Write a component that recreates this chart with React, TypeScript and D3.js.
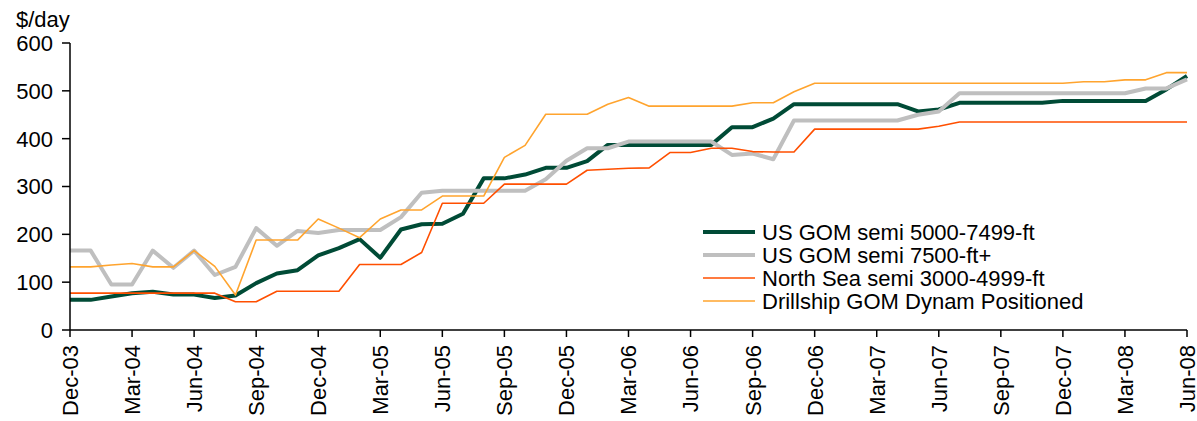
import React from "react";
import * as d3 from "d3";

const months = [
  "Dec-03","Jan-04","Feb-04","Mar-04","Apr-04","May-04","Jun-04","Jul-04","Aug-04","Sep-04","Oct-04","Nov-04",
  "Dec-04","Jan-05","Feb-05","Mar-05","Apr-05","May-05","Jun-05","Jul-05","Aug-05","Sep-05","Oct-05","Nov-05",
  "Dec-05","Jan-06","Feb-06","Mar-06","Apr-06","May-06","Jun-06","Jul-06","Aug-06","Sep-06","Oct-06","Nov-06",
  "Dec-06","Jan-07","Feb-07","Mar-07","Apr-07","May-07","Jun-07","Jul-07","Aug-07","Sep-07","Oct-07","Nov-07",
  "Dec-07","Jan-08","Feb-08","Mar-08","Apr-08","May-08","Jun-08",
];

const tickLabels = [
  "Dec-03","Mar-04","Jun-04","Sep-04","Dec-04","Mar-05","Jun-05","Sep-05","Dec-05","Mar-06",
  "Jun-06","Sep-06","Dec-06","Mar-07","Jun-07","Sep-07","Dec-07","Mar-08","Jun-08",
];

const yTicks = [0, 100, 200, 300, 400, 500, 600];

const gom5000 = [
  63, 63, 70, 77, 80, 74, 74, 67, 72, 98, 118, 125,
  156, 171, 190, 151, 210, 221, 222, 243, 317, 317, 325, 339,
  339, 353, 387, 387, 387, 387, 387, 387, 424, 424, 442, 472,
  472, 472, 472, 472, 472, 457, 461, 475, 475, 475, 475, 475,
  479, 479, 479, 479, 479, 503, 531,
];

const gom7500 = [
  166, 166, 95, 95, 166, 130, 166, 115, 132, 213, 176, 207,
  203, 209, 209, 209, 236, 287, 291, 291, 291, 291, 291, 315,
  354, 380, 380, 394, 394, 394, 394, 394, 366, 369, 357, 438,
  438, 438, 438, 438, 438, 450, 457, 495, 495, 495, 495, 495,
  495, 495, 495, 495, 505, 505, 524,
];

const northSea = [
  77, 77, 77, 77, 77, 77, 77, 77, 59, 59, 81, 81,
  81, 81, 137, 137, 137, 162, 265, 265, 265, 305, 305, 305,
  305, 334, 336, 338, 339, 371, 371, 380, 380, 373, 372, 372,
  420, 420, 420, 420, 420, 420, 426, 435, 435, 435, 435, 435,
  435, 435, 435, 435, 435, 435, 435,
];

const drillship = [
  132, 132, 136, 139, 132, 132, 166, 133, 73, 188, 188, 188,
  232, 213, 193, 232, 251, 251, 280, 280, 280, 361, 386, 451,
  451, 451, 472, 486, 468, 468, 468, 468, 468, 475, 475, 498,
  516, 516, 516, 516, 516, 516, 516, 516, 516, 516, 516, 516,
  516, 519, 519, 523, 523, 538, 538,
];

const seriesNames = [
  "US GOM semi 5000-7499-ft",
  "US GOM semi 7500-ft+",
  "North Sea semi 3000-4999-ft",
  "Drillship GOM Dynam Positioned",
];

const series = [
  { name: seriesNames[0], values: gom5000, color: "#004B36", width: 4 },
  { name: seriesNames[1], values: gom7500, color: "#BFBFBF", width: 4 },
  { name: seriesNames[2], values: northSea, color: "#FF4F00", width: 1.6 },
  { name: seriesNames[3], values: drillship, color: "#FFA42E", width: 1.6 },
];

const W = 1197;
const H = 421;
const FONT = "'Liberation Sans', Arial, Helvetica, sans-serif";

export default function App() {
  const x = d3.scaleLinear().domain([0, months.length - 1]).range([70, 1187]);
  const y = d3.scaleLinear().domain([0, 600]).range([330, 43]);
  const line = d3
    .line<number>()
    .x((_, i) => x(i))
    .y((d) => y(d))
    .curve(d3.curveLinear);

  const legendX = 703;
  const legendY = 232;
  const legendStep = 23;

  return (
    <svg
      width={W}
      height={H}
      style={{ position: "absolute", left: 0, top: 0, background: "#fff" }}
      fontFamily={FONT}
    >
      <rect x={0} y={0} width={W} height={H} fill="#fff" />
      {/* series */}
      {series.map((s) => (
        <path
          key={s.name}
          d={line(s.values) || ""}
          fill="none"
          stroke={s.color}
          strokeWidth={s.width}
          strokeLinejoin="round"
        />
      ))}

      {/* y axis */}
      <line x1={70} x2={70} y1={y(600)} y2={y(0)} stroke="#000" strokeWidth={1.5} />
      {yTicks.map((t) => (
        <g key={t}>
          <line x1={62} x2={70} y1={y(t)} y2={y(t)} stroke="#000" strokeWidth={1.5} />
          <text x={53} y={y(t)} dy="0.36em" textAnchor="end" fontSize={22} fill="#000">
            {t}
          </text>
        </g>
      ))}
      <text x={16} y={27} fontSize={22} fill="#000">$/day</text>

      {/* x axis */}
      <line x1={x(0)} x2={x(months.length - 1)} y1={y(0)} y2={y(0)} stroke="#000" strokeWidth={1.5} />
      {months.map((m, i) =>
        i % 3 === 0 ? (
          <line key={m} x1={x(i)} x2={x(i)} y1={y(0)} y2={y(0) + 7} stroke="#000" strokeWidth={1.5} />
        ) : null
      )}
      {tickLabels.map((lab) => {
        const i = months.indexOf(lab);
        const px = x(i);
        const py = 345;
        return (
          <text
            key={lab}
            transform={`translate(${px},${py}) rotate(-90)`}
            textAnchor="end"
            dy="0.36em"
            fontSize={22}
            fill="#000"
          >
            {lab}
          </text>
        );
      })}

      {/* legend */}
      {series.map((s, k) => (
        <g key={"lg" + k}>
          <line
            x1={legendX}
            x2={legendX + 52}
            y1={legendY + k * legendStep}
            y2={legendY + k * legendStep}
            stroke={s.color}
            strokeWidth={s.width}
          />
          <text
            x={legendX + 59}
            y={legendY + k * legendStep}
            dy="0.36em"
            fontSize={22}
            fill="#000"
          >
            {s.name}
          </text>
        </g>
      ))}
    </svg>
  );
}
